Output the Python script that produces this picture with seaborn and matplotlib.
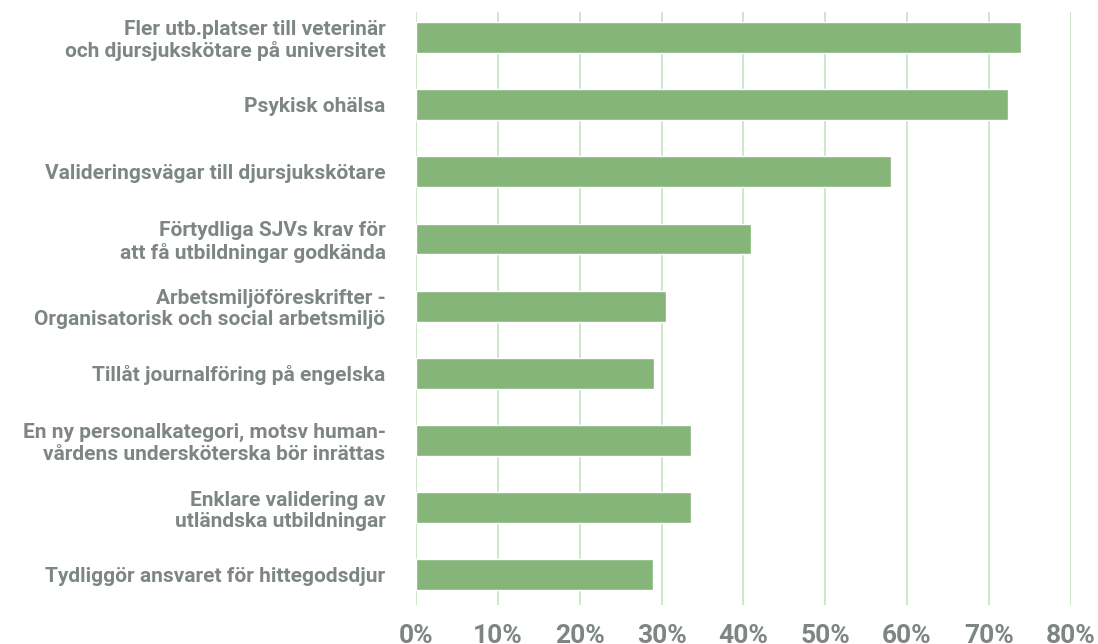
import pandas as pd
import seaborn as sns
import matplotlib.pyplot as plt
from matplotlib.ticker import PercentFormatter

# Andel svarande per förslag (läst från diagrammet)
categories = [
    "Fler utb.platser till veterinär\noch djursjukskötare på universitet",
    "Psykisk ohälsa",
    "Valideringsvägar till djursjukskötare",
    "Förtydliga SJVs krav för\natt få utbildningar godkända",
    "Arbetsmiljöföreskrifter -\nOrganisatorisk och social arbetsmiljö",
    "Tillåt journalföring på engelska",
    "En ny personalkategori, motsv human-\nvårdens undersköterska bör inrättas",
    "Enklare validering av\nutländska utbildningar",
    "Tydliggör ansvaret för hittegodsdjur",
]
shares = [73.9, 72.3, 58.0, 40.9, 30.6, 29.1, 33.6, 33.6, 28.9]
xticks = [0, 10, 20, 30, 40, 50, 60, 70, 80]

BAR_COLOR = "#86b57a"
GRID_COLOR = "#c3e3bd"
TEXT_COLOR = "#7d8683"

df = pd.DataFrame({"category": categories, "share": shares})

sns.set_style("white")
plt.rcParams["font.family"] = ["Roboto", "DejaVu Sans"]

fig = plt.figure(figsize=(10.98, 6.44), dpi=100)
ax = fig.add_axes([0.379, 0.0606, 0.596, 0.9208])

sns.barplot(data=df, x="share", y="category", color=BAR_COLOR,
            width=0.46, saturation=1, ax=ax, zorder=3)

ax.set_xlim(0, 80)
ax.set_ylim(8.45, -0.38)
ax.set_xticks(xticks)
ax.xaxis.set_major_formatter(PercentFormatter(decimals=0))
ax.grid(axis="x", color=GRID_COLOR, linewidth=1.2, zorder=0)
ax.grid(axis="y", visible=False)
for s in ax.spines.values():
    s.set_visible(False)

ax.set_xlabel("")
ax.set_ylabel("")
ax.tick_params(axis="x", length=0, pad=14, labelsize=19, labelcolor=TEXT_COLOR)
ax.tick_params(axis="y", length=0, pad=22, labelsize=15, labelcolor=TEXT_COLOR)
for lbl in ax.get_xticklabels():
    lbl.set_fontweight("bold")
for lbl in ax.get_yticklabels():
    lbl.set_fontweight("bold")
    lbl.set_linespacing(1.15)

fig.savefig("out.png", dpi=100)
